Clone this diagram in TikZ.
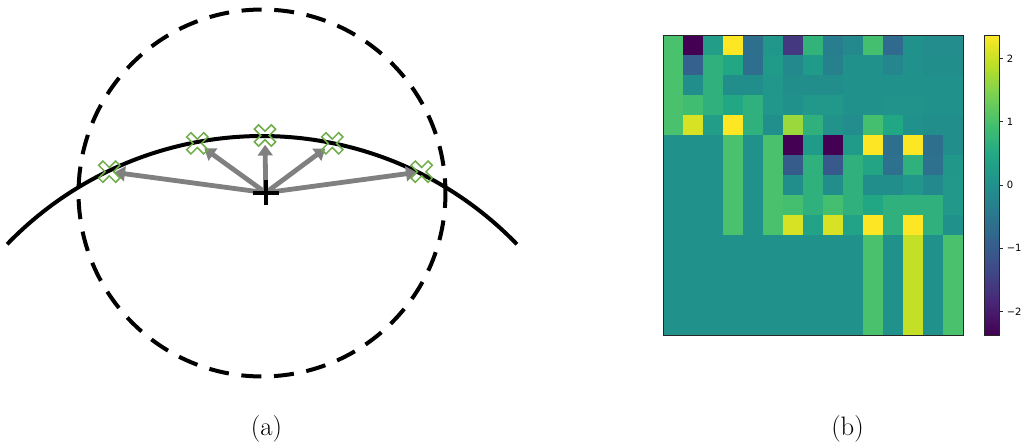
\documentclass[tikz,border=0pt]{standalone}
\usepackage{fontspec}
\newfontfamily\cbfont{DejaVu Sans}
\usetikzlibrary{arrows.meta}
\definecolor{vir0}{HTML}{440154}
\definecolor{vir1}{HTML}{482475}
\definecolor{vir2}{HTML}{414487}
\definecolor{vir3}{HTML}{355F8D}
\definecolor{vir4}{HTML}{2A788E}
\definecolor{vir5}{HTML}{21918C}
\definecolor{vir6}{HTML}{22A884}
\definecolor{vir7}{HTML}{44BF70}
\definecolor{vir8}{HTML}{7AD151}
\definecolor{vir9}{HTML}{BDDF26}
\definecolor{vir10}{HTML}{FDE725}
\definecolor{mkgreen}{HTML}{6FAD4A}
\definecolor{arrgray}{HTML}{808080}
\newcommand{\virsetcolor}[2]{%
  \pgfmathsetmacro{\myvt}{max(0,min(9.9999,(#2+2.37)/4.74*10))}%
  \pgfmathtruncatemacro{\myvi}{floor(\myvt)}%
  \pgfmathtruncatemacro{\myvj}{\myvi+1}%
  \pgfmathsetmacro{\myvp}{(\myvt-\myvi)*100}%
  \colorlet{#1}{vir\myvj!\myvp!vir\myvi}%
}
\tikzset{
  dashcircle/.style={line width=3pt, dash pattern=on 15pt off 9.5pt, dash phase=4pt},
  arcline/.style={line width=3pt},
  arrline/.style={draw=arrgray, line width=3.6pt, -{Triangle[width=11pt,length=8pt]}},
  xmk/.pic={\draw[mkgreen, line width=1.1pt, rotate=45]
     (3,12)--(3,3)--(12,3)--(12,-3)--(3,-3)--(3,-12)--(-3,-12)--(-3,-3)
     --(-12,-3)--(-12,3)--(-3,3)--(-3,12)--cycle;},
  plusmk/.pic={\draw[black, line width=3pt] (-13,0)--(13,0) (0,-12)--(0,13);},
  frame/.style={draw=black!85, line width=0.6pt},
  caption/.style={font=\fontsize{20}{24}\selectfont, inner sep=0pt},
  ticklab/.style={font=\cbfont\fontsize{7.5}{9}\selectfont, anchor=west, inner sep=0pt}
}
\begin{document}
\begin{tikzpicture}[x=0.75pt,y=0.75pt]
\useasboundingbox (0,0) rectangle (1026,447);
% ---------- panel (a) ----------
\coordinate (c) at (265.7,254.3);
\coordinate (p1) at (109.3,275.3);
\coordinate (p2) at (197.3,303.7);
\coordinate (p3) at (265,311.5);
\coordinate (p4) at (332.3,303.7);
\coordinate (p5) at (421.7,275.3);
\coordinate (cc) at (262,254);
\coordinate (ac) at (262,-43.3);
\draw[dashcircle] (cc) circle[radius=137.6pt];
\draw[arcline] (ac) ++(136:265.7pt) arc[start angle=136, end angle=44, radius=265.7pt];
\draw[arrline, shorten >=3.8pt] (c) -- (p1);
\draw[arrline, shorten >=6.5pt] (c) -- (p2);
\draw[arrline, shorten >=7pt] (c) -- (p3);
\draw[arrline, shorten >=6.5pt] (c) -- (p4);
\draw[arrline, shorten >=3.8pt] (c) -- (p5);
\foreach \p in {p1,p2,p3,p4,p5} { \pic at (\p) {xmk}; }
\pic at (c) {plusmk};
\node[caption] (capa) at (266.5,18) {(a)};
% ---------- panel (b) ----------
\foreach \rowvals [count=\r from 0] in {
 {1.0,-2.37,0.25,2.37,-0.65,0.1,-1.6,0.7,-0.35,-0.15,0.95,-0.75,0.0,-0.1,-0.1},
 {1.0,-0.9,0.65,0.45,-0.65,0.2,-0.15,0.2,-0.3,0.0,0.0,-0.2,0.0,-0.05,-0.05},
 {1.0,-0.05,0.65,-0.05,-0.05,0.1,-0.05,-0.05,-0.05,0.0,0.0,0.0,0.0,0.0,0.0},
 {1.0,0.9,0.65,0.45,0.65,0.1,0.0,0.15,0.15,0.0,0.0,0.05,0.05,0.0,0.0},
 {1.0,2.1,0.25,2.37,0.65,-0.02,1.65,0.65,0.05,-0.1,0.95,0.45,0.0,-0.05,-0.05},
 {0,0,0,1.0,0,1.0,-2.37,0.2,-2.37,0.2,2.37,-0.65,2.37,-0.65,-0.05},
 {0,0,0,1.0,0,1.0,-1.0,0.65,-1.05,0.65,0.4,-0.6,0.65,-0.6,0.12},
 {0,0,0,1.0,0,1.0,-0.05,0.65,-0.05,0.65,-0.05,-0.05,0.1,-0.15,0.15},
 {0,0,0,1.0,0,1.0,0.95,0.65,0.95,0.65,0.45,0.65,0.65,0.65,0.15},
 {0,0,0,1.0,0,1.0,2.1,0.35,2.1,0.35,2.37,0.65,2.37,0.65,0.0},
 {0,0,0,0,0,0,0,0,0,0,1.0,0,1.95,0,1.0},
 {0,0,0,0,0,0,0,0,0,0,1.0,0,1.95,0,1.0},
 {0,0,0,0,0,0,0,0,0,0,1.0,0,1.95,0,1.0},
 {0,0,0,0,0,0,0,0,0,0,1.0,0,1.95,0,1.0},
 {0,0,0,0,0,0,0,0,0,0,1.0,0,1.95,0,1.0}}{
  \foreach \v [count=\c from 0] in \rowvals {
    \virsetcolor{cellc}{\v}
    \fill[cellc] ({663+20*\c},{412-20*\r}) rectangle ++(20.4,-20.4);
  }
}
\draw[frame] (663,112) rectangle (963,412);
% colorbar
\foreach \k in {0,...,149} {
  \pgfmathsetmacro{\cbv}{-2.37+(\k+0.5)*4.74/150}
  \virsetcolor{cbc}{\cbv}
  \fill[cbc] (984,{112+2*\k}) rectangle ++(15,2.4);
}
\draw[frame] (984,112) rectangle (999,412);
\foreach \t/\lab [count=\i] in {-2/{−2},-1/{−1},0/{0},1/{1},2/{2}} {
  \pgfmathsetmacro{\ty}{112+(\t+2.37)/4.74*300}
  \draw[black!85, line width=0.6pt] (999,\ty) -- (1002.5,\ty);
  \node[ticklab] (tick\i) at (1006.5,\ty) {\lab};
}
\node[caption] (capb) at (847.5,18) {(b)};
\end{tikzpicture}
\end{document}
